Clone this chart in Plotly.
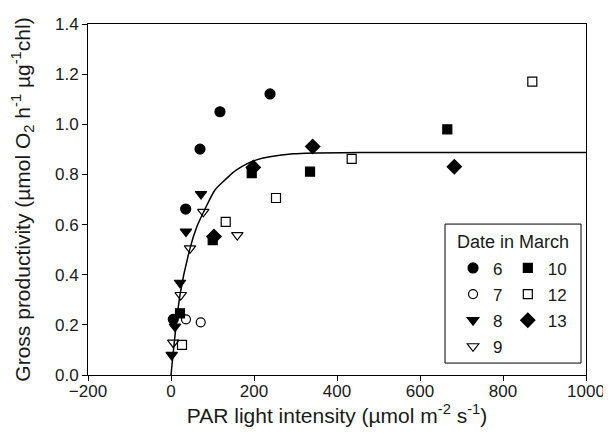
import plotly.graph_objects as go

# ---- data ----
x6 = [5.5, 35.4, 69.9, 118, 238.6]
y6 = [0.222, 0.662, 0.901, 1.050, 1.121]
x7 = [36.1, 71.6]
y7 = [0.222, 0.210]
x8 = [1.7, 9.6, 21.7, 36.1, 72.3]
y8 = [0.080, 0.193, 0.368, 0.572, 0.722]
x9 = [5.5, 23.4, 45.8, 77.8, 159.8]
y9 = [0.129, 0.319, 0.505, 0.651, 0.558]
x10 = [21.7, 100.5, 194.5, 335, 665.8]
y10 = [0.246, 0.538, 0.805, 0.811, 0.980]
x12 = [26.5, 131.8, 253, 435.4, 870.6]
y12 = [0.120, 0.611, 0.706, 0.862, 1.170]
x13 = [103.6, 198.3, 341.4, 682.7]
y13 = [0.552, 0.828, 0.911, 0.831]

fit_x = [0, 21.7, 45.8, 62, 80, 106, 130, 158, 206, 295, 455, 1000]
fit_y = [0, 0.32, 0.505, 0.59, 0.655, 0.738, 0.778, 0.818, 0.858, 0.882, 0.887, 0.887]

x_ticks = [-200, 0, 200, 400, 600, 800, 1000]
y_ticks = [0.0, 0.2, 0.4, 0.6, 0.8, 1.0, 1.2, 1.4]

FONT = "Liberation Sans, Arial, sans-serif"
TXT = "#1a1a1a"

fig = go.Figure()

fig.add_trace(go.Scatter(x=fit_x, y=fit_y, mode="lines",
                         line=dict(color="black", width=1.5, shape="spline", smoothing=0.8),
                         showlegend=False, hoverinfo="skip"))

series = [
    ("6", x6, y6, "circle", 10, "legend"),
    ("7", x7, y7, "circle-open", 9, "legend"),
    ("8", x8, y8, "triangle-down", 10, "legend"),
    ("9", x9, y9, "triangle-down-open", 10, "legend"),
    ("10", x10, y10, "square", 9, "legend2"),
    ("12", x12, y12, "square-open", 9, "legend2"),
    ("13", x13, y13, "diamond", 11, "legend2"),
]
for name, xs, ys, sym, size, leg in series:
    fig.add_trace(go.Scatter(
        x=xs, y=ys, mode="markers", name=name, legend=leg, legendgroup=name,
        marker=dict(symbol=sym, size=size, color="black", line=dict(color="black", width=1.2)),
    ))

axis_common = dict(showline=True, linecolor="black", linewidth=1, mirror=True,
                   ticks="outside", ticklen=5, tickcolor="black", showgrid=False,
                   zeroline=False, automargin=False,
                   tickfont=dict(family=FONT, size=17, color=TXT))

fig.update_xaxes(range=[-200, 1000], tickvals=x_ticks, ticklabelstandoff=-4,
                 title=dict(text="PAR light intensity (µmol m<sup>-2</sup> s<sup>-1</sup>)",
                            font=dict(family=FONT, size=21, color=TXT), standoff=6),
                 **axis_common)
fig.update_yaxes(range=[0, 1.4], tickvals=y_ticks, tickformat=".1f",
                 title=dict(text="Gross productivity (µmol O<sub>2</sub> h<sup>-1</sup> µg<sup>-1</sup>chl)",
                            font=dict(family=FONT, size=21, color=TXT), standoff=38),
                 **axis_common)

leg_common = dict(bgcolor="rgba(0,0,0,0)", borderwidth=0, orientation="v",
                  font=dict(family=FONT, size=17, color=TXT),
                  xanchor="left", yanchor="top", tracegroupgap=1, itemwidth=30)
fig.update_layout(
    legend=dict(x=0.733, y=0.355, **leg_common),
    legend2=dict(x=0.843, y=0.355, **leg_common),
)

fig.add_shape(type="rect", xref="paper", yref="paper",
              x0=0.7169, x1=0.990, y0=0.034, y1=0.430,
              line=dict(color="black", width=1), fillcolor="rgba(0,0,0,0)")
fig.add_annotation(text="Date in March", xref="paper", yref="paper",
                   x=0.853, y=0.378, xanchor="center", yanchor="middle",
                   showarrow=False, font=dict(family=FONT, size=18, color=TXT))

# the page puts the figure 8 px in from the top-left corner, so the figure is
# 8 px smaller and its left/top margins 8 px less to land on the same pixels
fig.update_layout(
    width=603, height=431,
    margin=dict(l=80, r=25, t=16, b=64),
    plot_bgcolor="white", paper_bgcolor="white",
    font=dict(family=FONT, color=TXT),
)

fig.write_html("out.html")
